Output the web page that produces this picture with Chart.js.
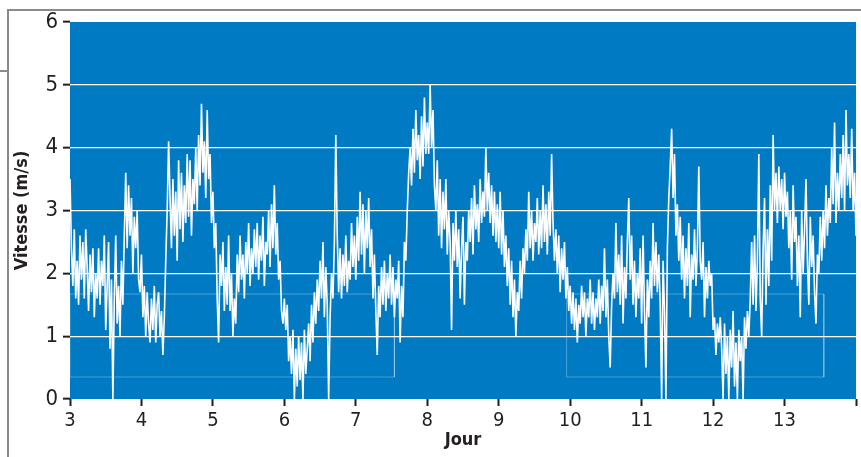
<!DOCTYPE html>
<html>
<head>
<meta charset="utf-8">
<script src="https://cdn.jsdelivr.net/npm/chart.js@4/dist/chart.umd.min.js"></script>
<style>
  html, body { margin: 0; padding: 0; background: #ffffff; }
  #wrap { position: relative; width: 861px; height: 457px; overflow: hidden; }
  #frame { position: absolute; left: 7px; top: 9px; width: 860px; height: 460px;
           border-left: 2px solid #8a8a8a; border-top: 2px solid #8a8a8a; }
  #notch { position: absolute; left: 0; top: 70px; width: 8px; border-top: 2px solid #8a8a8a; }
  canvas { position: absolute; left: 0; top: 0; }
</style>
</head>
<body>
<div id="wrap">
  <div id="frame"></div>
  <div id="notch"></div>
  <canvas id="c" width="861" height="457"></canvas>
</div>
<script>
// ---- data ----
const startDay = 3;
const stepDay = 0.02;
const speed = [
  // day 3
  3.5, 2.4, 1.8, 2.7, 1.6, 2.2, 1.5, 2.6, 1.9, 2.5,
  1.6, 2.7, 2.1, 1.4, 2.3, 1.7, 2.4, 1.3, 2.0, 1.6,
  2.4, 1.5, 2.2, 1.8, 2.6, 1.1, 1.8, 2.5, 0.8, 1.9,
  0.0, 1.6, 2.6, 1.2, 1.8, 1.0, 2.2, 1.5, 2.6, 3.6,
  2.4, 3.4, 2.6, 3.2, 2.0, 2.9, 2.4, 3.0, 1.9, 1.7,
  // day 4
  2.3, 1.3, 1.8, 1.0, 1.7, 1.2, 0.9, 1.6, 1.1, 1.8,
  0.9, 1.5, 1.7, 1.0, 1.4, 0.7, 1.3, 2.2, 3.0, 4.1,
  3.2, 2.4, 3.5, 2.6, 3.3, 2.2, 3.8, 2.7, 3.6, 2.5,
  3.4, 2.8, 3.9, 2.9, 3.8, 2.6, 3.5, 3.1, 4.0, 3.0,
  4.2, 3.4, 4.7, 3.6, 4.1, 3.2, 4.6, 3.5, 3.9, 2.8,
  // day 5
  3.3, 2.4, 2.8, 1.6, 0.9, 2.3, 1.8, 2.5, 1.4, 2.1,
  1.5, 2.6, 1.4, 2.0, 1.0, 1.6, 1.2, 2.3, 1.7, 2.6,
  1.9, 2.3, 1.6, 2.5, 2.0, 2.8, 1.8, 2.4, 2.0, 2.7,
  2.1, 2.8, 1.9, 2.6, 2.2, 2.9, 1.8, 2.5, 2.3, 3.0,
  2.1, 3.1, 2.4, 3.4, 2.3, 2.8, 1.9, 2.2, 1.4, 1.2,
  // day 6
  1.6, 1.1, 1.5, 0.6, 1.0, 0.4, 1.1, 0.0, 0.8, 0.2,
  1.0, 0.3, 0.9, 0.0, 1.1, 0.4, 0.8, 1.2, 0.6, 1.5,
  0.9, 1.7, 1.2, 1.9, 1.4, 2.2, 1.6, 2.5, 1.3, 2.1,
  1.5, 0.0, 1.3, 2.0, 1.6, 2.5, 4.2, 2.6, 1.7, 2.4,
  1.6, 2.3, 1.8, 2.6, 1.7, 2.2, 1.9, 2.8, 2.1, 2.6,
  // day 7
  1.9, 2.9, 2.2, 3.3, 2.3, 3.1, 2.0, 3.0, 2.4, 3.2,
  2.1, 2.7, 1.6, 2.3, 1.4, 0.7, 1.8, 1.3, 2.1, 1.5,
  2.2, 1.4, 2.0, 1.6, 2.3, 1.5, 2.1, 1.3, 1.9, 1.6,
  2.2, 0.9, 1.8, 1.3, 2.5, 2.2, 3.0, 3.6, 4.0, 3.4,
  4.3, 3.6, 4.6, 3.8, 4.2, 3.5, 4.5, 3.7, 4.8, 3.9,
  // day 8
  4.4, 3.9, 5.0, 4.0, 4.6, 3.4, 3.0, 3.8, 2.6, 3.5,
  2.4, 3.3, 2.7, 3.5, 2.3, 3.0, 2.5, 1.1, 2.8, 2.2,
  3.0, 2.1, 2.7, 1.6, 2.4, 2.9, 1.5, 2.5, 2.2, 3.0,
  2.5, 3.2, 2.3, 3.4, 2.7, 3.1, 2.5, 3.5, 2.8, 3.3,
  2.9, 4.0, 3.0, 3.6, 2.8, 3.4, 2.6, 3.3, 2.5, 3.1,
  // day 9
  2.4, 3.3, 2.3, 3.0, 2.1, 2.6, 1.8, 2.4, 1.5, 2.2,
  1.3, 1.9, 1.0, 1.7, 1.4, 2.2, 1.6, 2.4, 2.0, 2.7,
  2.2, 3.3, 2.4, 3.0, 2.2, 2.8, 2.5, 3.2, 2.3, 3.0,
  2.4, 3.4, 2.5, 3.1, 2.3, 3.3, 2.6, 3.9, 2.8, 2.2,
  2.7, 2.0, 2.6, 1.7, 2.4, 1.9, 2.5, 1.6, 2.1, 1.4,
  // day 10
  1.8, 1.2, 1.7, 1.1, 1.6, 0.9, 1.5, 1.2, 1.8, 1.3,
  1.7, 1.0, 1.6, 1.3, 1.9, 1.2, 1.7, 1.1, 1.6, 1.3,
  1.9, 1.2, 1.8, 1.4, 2.4, 1.3, 1.9, 1.0, 0.5, 1.5,
  2.0, 1.6, 2.8, 1.7, 2.3, 1.5, 2.6, 1.2, 2.1, 1.6,
  2.5, 3.2, 1.9, 2.6, 1.5, 2.2, 1.3, 2.0, 1.6, 2.4,
  // day 11
  1.2, 2.6, 1.4, 0.5, 1.9, 1.3, 2.2, 1.6, 2.8, 1.8,
  2.5, 1.7, 2.3, 1.5, 0.0, 2.2, 1.4, 0.0, 2.4, 3.2,
  3.7, 4.3, 3.2, 3.9, 2.6, 3.1, 2.2, 2.9, 1.9, 2.6,
  1.6, 2.4, 1.8, 2.8, 1.3, 2.3, 1.9, 2.7, 1.8, 2.4,
  3.7, 2.2, 1.9, 2.5, 1.3, 2.1, 1.6, 2.2, 1.8, 2.0,
  // day 12
  1.1, 1.3, 0.7, 1.2, 0.9, 1.3, 0.8, 0.0, 1.2, 0.4,
  1.0, 0.0, 1.1, 0.5, 1.4, 0.2, 0.9, 0.0, 1.1, 0.6,
  1.0, 0.0, 1.3, 0.8, 1.4, 1.0, 1.6, 2.5, 1.5, 2.6,
  1.4, 2.2, 3.9, 1.6, 1.0, 2.4, 3.2, 1.5, 2.7, 1.8,
  3.4, 2.2, 4.2, 3.0, 3.6, 2.8, 3.7, 3.0, 3.5, 2.7,
  // day 13
  3.6, 2.9, 3.3, 2.4, 3.0, 1.9, 3.4, 2.5, 2.9, 1.8,
  2.6, 1.3, 3.0, 2.0, 2.7, 3.5, 2.2, 1.5, 2.9, 2.1,
  2.6, 1.7, 1.2, 2.3, 2.0, 2.9, 2.2, 3.0, 2.4, 3.4,
  2.6, 3.2, 2.8, 4.0, 3.1, 4.4, 2.8, 3.6, 3.0, 3.9,
  3.2, 4.2, 3.0, 4.6, 3.4, 3.9, 3.2, 4.3, 3.0, 3.6,
  // day 14
  2.6
];
const xTicks = [3, 4, 5, 6, 7, 8, 9, 10, 11, 12, 13, 14];
const xTickLabels = ['3', '4', '5', '6', '7', '8', '9', '10', '11', '12', '13', ''];
const yTicks = [0, 1, 2, 3, 4, 5, 6];
const yTitle = 'Vitesse (m/s)';
const xTitle = 'Jour';
// faint boxes visible inside the plot area (data coordinates: [x0, x1, y0, y1])
const boxA = [3, 7.54, 0.35, 1.67];
const boxB = [9.95, 13.55, 0.35, 1.67];

// ---- build ----
const linePoints = speed.map((v, i) => ({ x: +(startDay + i * stepDay).toFixed(2), y: v }));
function boxPath(b) {
  return [{x: b[0], y: b[2]}, {x: b[0], y: b[3]}, {x: b[1], y: b[3]}, {x: b[1], y: b[2]}, {x: b[0], y: b[2]}];
}

const FONT = "'Liberation Sans Narrow', 'DejaVu Sans Condensed', 'Arial Narrow', sans-serif";
const TEXT = '#231f20';
const PLOT_BG = '#007bc3';

const bgPlugin = {
  id: 'plotBg',
  beforeDraw(chart) {
    const { ctx, chartArea: a } = chart;
    ctx.save();
    ctx.fillStyle = PLOT_BG;
    ctx.fillRect(a.left, a.top, a.right - a.left, a.bottom - a.top);
    ctx.restore();
  }
};

new Chart(document.getElementById('c'), {
  type: 'line',
  data: {
    datasets: [
      { data: boxPath(boxA), borderColor: 'rgba(255,255,255,0.28)', borderWidth: 1, pointRadius: 0, fill: false, tension: 0 },
      { data: boxPath(boxB), borderColor: 'rgba(255,255,255,0.28)', borderWidth: 1, pointRadius: 0, fill: false, tension: 0 },
      { data: linePoints, borderColor: '#ffffff', borderWidth: 1.6, pointRadius: 0, fill: false, tension: 0 }
    ]
  },
  options: {
    responsive: false,
    animation: false,
    layout: { padding: { top: 22, right: 5, left: 0, bottom: 0 } },
    plugins: { legend: { display: false }, tooltip: { enabled: false } },
    scales: {
      x: {
        type: 'linear',
        min: 3, max: 14,
        afterBuildTicks(s) { s.ticks = xTicks.map(v => ({ value: v })); },
        afterFit(s) { s.height = 58; },
        ticks: {
          autoSkip: false, maxRotation: 0, padding: 3,
          color: TEXT, font: { family: FONT, size: 20 },
          callback(v) { const i = xTicks.indexOf(v); return i >= 0 ? xTickLabels[i] : ''; }
        },
        grid: { drawOnChartArea: false, drawTicks: true, tickLength: 7, tickWidth: 2, tickColor: TEXT, color: TEXT },
        border: { display: false },
        title: { display: true, text: xTitle, color: TEXT, font: { family: FONT, size: 18, weight: 'bold' }, padding: { top: 0, bottom: 6 } }
      },
      y: {
        type: 'linear',
        min: 0, max: 6,
        afterBuildTicks(s) { s.ticks = yTicks.map(v => ({ value: v })); },
        afterFit(s) { s.width = 70; },
        ticks: { padding: 5, color: TEXT, font: { family: FONT, size: 22 } },
        grid: {
          drawTicks: true, tickLength: 7, tickWidth: 2, tickColor: TEXT,
          lineWidth: 1.3,
          color(ctx) { const v = ctx.tick && ctx.tick.value; return (v === 0 || v === 6) ? 'rgba(0,0,0,0)' : '#ffffff'; }
        },
        border: { display: false },
        title: { display: true, text: yTitle, color: TEXT, font: { family: FONT, size: 18, weight: 'bold' }, padding: { top: 12, bottom: 0 } }
      }
    }
  },
  plugins: [bgPlugin]
});
</script>
</body>
</html>
